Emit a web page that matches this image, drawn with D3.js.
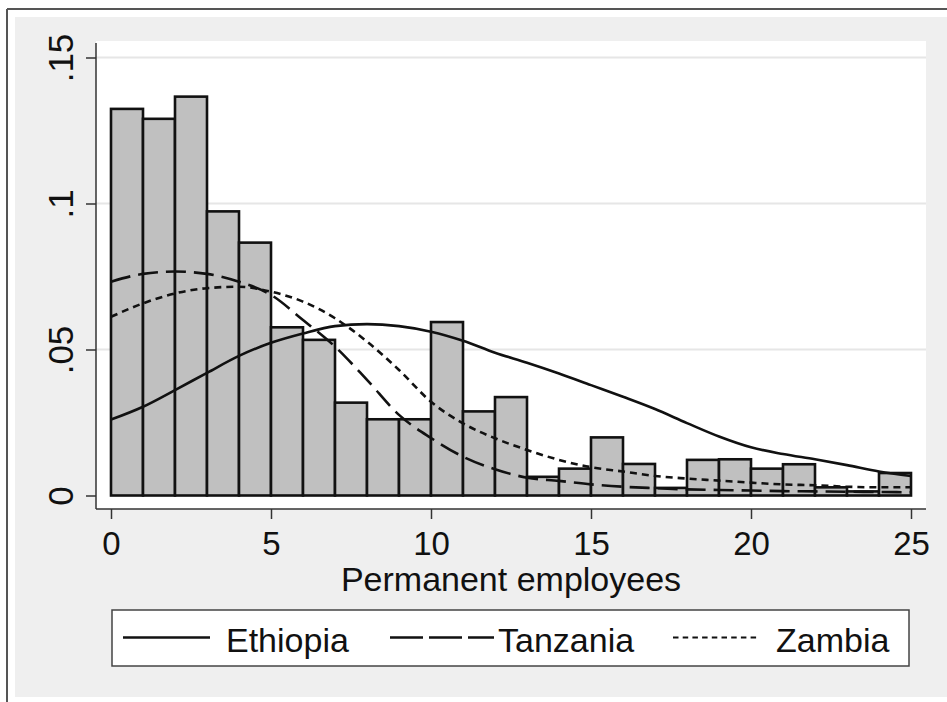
<!DOCTYPE html>
<html>
<head>
<meta charset="utf-8">
<script src="https://cdn.jsdelivr.net/npm/d3@7"></script>
<style>
  html, body { margin: 0; padding: 0; background: #ffffff; }
  svg { display: block; }
  text { font-family: "Liberation Sans", Arial, sans-serif; fill: #111; }
</style>
</head>
<body>
<svg id="chart" width="947" height="702"></svg>
<script>
// ---- data ----
const binStarts = d3.range(0, 25);            // histogram bins of width 1 (0..25)
const barDensity = [0.1324, 0.1290, 0.1366, 0.0973, 0.0866, 0.0576, 0.0533, 0.0318, 0.0261, 0.0261,
                    0.0594, 0.0288, 0.0337, 0.0064, 0.0092, 0.0199, 0.0108, 0.0026, 0.0122, 0.0124,
                    0.0092, 0.0107, 0.0028, 0.0014, 0.0077];
const curveX = d3.range(0, 26);
const ethiopia = [0.0260, 0.0304, 0.0361, 0.0420, 0.0478, 0.0523, 0.0555, 0.0580, 0.0587, 0.0580,
                  0.0561, 0.0530, 0.0489, 0.0455, 0.0418, 0.0378, 0.0338, 0.0296, 0.0248, 0.0202,
                  0.0165, 0.0142, 0.0124, 0.0104, 0.0082, 0.0067];
const tanzania = [0.0732, 0.0759, 0.0767, 0.0759, 0.0732, 0.0687, 0.0601, 0.0510, 0.0396, 0.0276,
                  0.0197, 0.0133, 0.0090, 0.0061, 0.0050, 0.0038, 0.0030, 0.0025, 0.0021, 0.0019,
                  0.0017, 0.0015, 0.0014, 0.0013, 0.0012, 0.0011];
const zambia   = [0.0612, 0.0658, 0.0692, 0.0710, 0.0715, 0.0698, 0.0664, 0.0607, 0.0527, 0.0430,
                  0.0321, 0.0247, 0.0196, 0.0156, 0.0122, 0.0097, 0.0082, 0.0067, 0.0058, 0.0051,
                  0.0044, 0.0038, 0.0035, 0.0030, 0.0028, 0.0028];
const seriesNames = ["Ethiopia", "Tanzania", "Zambia"];
const xTicks = [0, 5, 10, 15, 20, 25];
const yTicks = [0, 0.05, 0.10, 0.15];
const yTickLabels = ["0", ".05", ".1", ".15"];
const xTitle = "Permanent employees";

// ---- layout ----
const svg = d3.select("#chart");
const W = 947, H = 702;
const plot = { left: 96, top: 41, right: 926, bottom: 509 };

const x = d3.scaleLinear().domain([0, 25]).range([111, 911]);
const y = d3.scaleLinear().domain([0, 0.15]).range([495.5, 57.5]);

// outer frame
svg.append("rect").attr("x", 0).attr("y", 0).attr("width", W).attr("height", H).attr("fill", "#ffffff");
svg.append("rect").attr("x", 15).attr("y", 17).attr("width", W - 15).attr("height", 680).attr("fill", "#efefef");
svg.append("line").attr("x1", 7).attr("x2", W).attr("y1", 9).attr("y2", 9).attr("stroke", "#555").attr("stroke-width", 2);
svg.append("line").attr("x1", 7).attr("x2", 7).attr("y1", 9).attr("y2", H).attr("stroke", "#555").attr("stroke-width", 2);

// plot region
svg.append("rect").attr("x", plot.left).attr("y", plot.top)
  .attr("width", plot.right - plot.left).attr("height", plot.bottom - plot.top).attr("fill", "#ffffff");

// gridlines
svg.append("g").selectAll("line").data(yTicks.filter(d => d > 0)).join("line")
  .attr("x1", plot.left).attr("x2", plot.right)
  .attr("y1", d => y(d)).attr("y2", d => y(d))
  .attr("stroke", "#e6e6e6").attr("stroke-width", 2);

// bars
svg.append("g").selectAll("rect").data(binStarts).join("rect")
  .attr("x", d => x(d))
  .attr("y", (d, i) => y(barDensity[i]))
  .attr("width", d => x(d + 1) - x(d))
  .attr("height", (d, i) => y(0) - y(barDensity[i]))
  .attr("fill", "#c0c0c0")
  .attr("stroke", "#111")
  .attr("stroke-width", 2.6);

// density curves
const styles = {
  Ethiopia: null,
  Tanzania: "20,8",
  Zambia: "7,5"
};
const seriesData = { Ethiopia: ethiopia, Tanzania: tanzania, Zambia: zambia };
const line = d3.line().x(d => x(d[0])).y(d => y(d[1])).curve(d3.curveMonotoneX);
seriesNames.forEach(name => {
  const pts = curveX.map((v, i) => [v, seriesData[name][i]]);
  svg.append("path").datum(pts)
    .attr("d", line)
    .attr("fill", "none")
    .attr("stroke", "#111")
    .attr("stroke-width", 2.6)
    .attr("stroke-dasharray", styles[name]);
});

// axes
const axisColor = "#333";
const xAxis = d3.axisBottom(x).tickValues(xTicks).tickSize(10).tickFormat(d3.format("d"));
const gx = svg.append("g").attr("transform", `translate(0,${plot.bottom})`).call(xAxis);
gx.select(".domain").remove();
gx.selectAll(".tick line").attr("stroke", axisColor).attr("stroke-width", 1.5);
gx.selectAll(".tick text").attr("font-size", 33).attr("fill", "#111")
  .attr("font-family", "Liberation Sans, Arial, sans-serif").attr("dy", null).attr("y", 46);
svg.append("line").attr("x1", plot.left).attr("x2", plot.right).attr("y1", plot.bottom).attr("y2", plot.bottom)
  .attr("stroke", axisColor).attr("stroke-width", 1.5);

const yAxis = d3.axisLeft(y).tickValues(yTicks).tickSize(10).tickFormat((d, i) => yTickLabels[i]);
const gy = svg.append("g").attr("transform", `translate(${plot.left},0)`).call(yAxis);
gy.select(".domain").remove();
gy.selectAll(".tick line").attr("stroke", axisColor).attr("stroke-width", 1.5);
gy.selectAll(".tick text")
  .attr("font-size", 35).attr("fill", "#111")
  .attr("font-family", "Liberation Sans, Arial, sans-serif")
  .attr("x", null).attr("dy", null)
  .attr("text-anchor", "middle")
  .attr("transform", "translate(-23,0) rotate(-90)");
svg.append("line").attr("x1", plot.left).attr("x2", plot.left).attr("y1", 43).attr("y2", plot.bottom)
  .attr("stroke", axisColor).attr("stroke-width", 1.5);

// x title
svg.append("text").attr("x", 511).attr("y", 591).attr("text-anchor", "middle")
  .attr("font-size", 34).text(xTitle);

// legend
const lg = svg.append("g");
lg.append("rect").attr("x", 112).attr("y", 610).attr("width", 797).attr("height", 56)
  .attr("fill", "#ffffff").attr("stroke", "#444").attr("stroke-width", 1.5);
const legendItems = [
  { name: "Ethiopia", x1: 123, x2: 210, tx: 226, dash: null, sw: 2.4 },
  { name: "Tanzania", x1: 390, x2: 494, tx: 498, dash: "33,6", sw: 2.4 },
  { name: "Zambia",   x1: 673, x2: 760, tx: 776, dash: "5.5,4.2", sw: 2 }
];
legendItems.forEach(it => {
  lg.append("line").attr("x1", it.x1).attr("x2", it.x2).attr("y1", 637.5).attr("y2", 637.5)
    .attr("stroke", "#111").attr("stroke-width", it.sw).attr("stroke-dasharray", it.dash);
  lg.append("text").attr("x", it.tx).attr("y", 652).attr("font-size", 34).text(it.name);
});
</script>
</body>
</html>
